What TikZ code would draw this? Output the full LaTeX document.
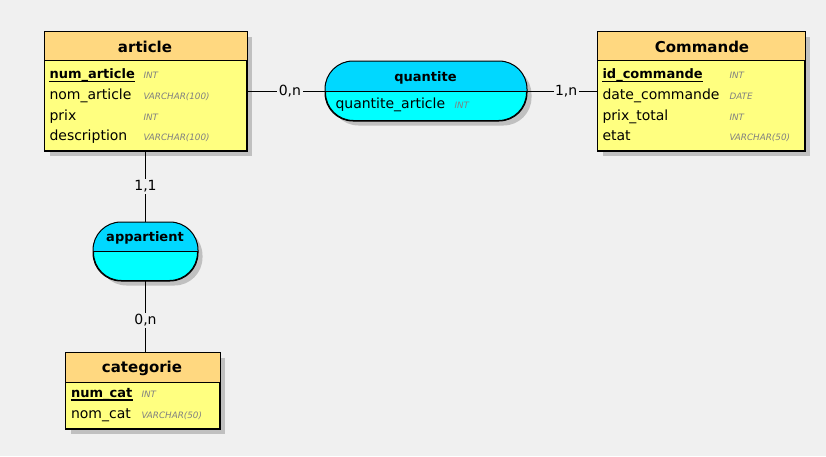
\documentclass[tikz,border=0pt]{standalone}
\usepackage{fontspec}
\setmainfont{DejaVu Sans}
\usetikzlibrary{shadows}
\definecolor{bg}{RGB}{240,240,240}
\definecolor{headc}{RGB}{255,216,128}
\definecolor{bodyc}{RGB}{255,255,128}
\definecolor{ehead}{RGB}{0,216,255}
\definecolor{ebody}{RGB}{0,255,255}
\definecolor{shadowc}{RGB}{192,192,192}
\definecolor{typec}{RGB}{128,128,128}
\begin{document}
\begin{tikzpicture}[x=1pt,y=-1pt,line width=1pt,
  shad/.style={drop shadow={shadow xshift=5pt,shadow yshift=-5pt,fill=shadowc,opacity=1}},
  tbl/.style={draw=black,fill=bodyc,inner sep=0pt,anchor=north west,shad},
  ent/.style={draw=black,fill=ebody,inner sep=0pt,anchor=north west,rounded corners=28pt,shad},
  attr/.style={anchor=base west,inner sep=0pt,font=\fontsize{14}{16}\selectfont},
  keyattr/.style={anchor=base west,inner sep=0pt,font=\fontsize{13}{16}\selectfont\bfseries},
  typ/.style={anchor=base west,inner sep=0pt,text=typec,font=\fontsize{8.8}{10}\selectfont\itshape},
  ttl/.style={anchor=base,inner sep=0pt,font=\fontsize{15}{18}\selectfont\bfseries},
  ettl/.style={anchor=base,inner sep=0pt,font=\fontsize{13}{16}\selectfont\bfseries},
  lbl/.style={fill=bg,inner sep=1.5pt,font=\fontsize{14}{16}\selectfont},
  uline/.style={line width=1.6pt}
]
\fill[bg] (0,0) rectangle (826,456);
\useasboundingbox (0,0) rectangle (826,456);

% ---------- article ----------
\node[tbl,minimum width=202pt,minimum height=119pt] (article) at (44,31) {};
\fill[headc] (article.north west) rectangle ([yshift=-29pt]article.north east);
\draw (article.north west) rectangle (article.south east);
\draw ([yshift=-29pt]article.north west) -- ([yshift=-29pt]article.north east);
\node[ttl] (articleT) at (145,52.5) {article};
\node[keyattr] (a1) at (49,78.5) {num\_article};
\draw[uline] ([yshift=-3pt]a1.base west) -- ([yshift=-3pt]a1.base east);
\node[attr] (a2) at (49,99.3) {nom\_article};
\node[attr] (a3) at (49,120.1) {prix};
\node[attr] (a4) at (49,140.9) {description};
\node[typ] (a1t) at (143,78.5) {INT};
\node[typ] (a2t) at (143,99.3) {VARCHAR(100)};
\node[typ] (a3t) at (143,120.1) {INT};
\node[typ] (a4t) at (143,140.9) {VARCHAR(100)};

% ---------- Commande ----------
\node[tbl,minimum width=207pt,minimum height=119pt] (commande) at (597,31) {};
\fill[headc] (commande.north west) rectangle ([yshift=-29pt]commande.north east);
\draw (commande.north west) rectangle (commande.south east);
\draw ([yshift=-29pt]commande.north west) -- ([yshift=-29pt]commande.north east);
\node[ttl] (commandeT) at (702,52.5) {Commande};
\node[keyattr] (c1) at (602,78.5) {id\_commande};
\draw[uline] ([yshift=-3pt]c1.base west) -- ([yshift=-3pt]c1.base east);
\node[attr] (c2) at (602,99.3) {date\_commande};
\node[attr] (c3) at (602,120.1) {prix\_total};
\node[attr] (c4) at (602,140.9) {etat};
\node[typ] (c1t) at (729,78.5) {INT};
\node[typ] (c2t) at (729,99.3) {DATE};
\node[typ] (c3t) at (729,120.1) {INT};
\node[typ] (c4t) at (729,140.9) {VARCHAR(50)};

% ---------- categorie ----------
\node[tbl,minimum width=154pt,minimum height=76pt] (categorie) at (65,352) {};
\fill[headc] (categorie.north west) rectangle ([yshift=-30pt]categorie.north east);
\draw (categorie.north west) rectangle (categorie.south east);
\draw ([yshift=-30pt]categorie.north west) -- ([yshift=-30pt]categorie.north east);
\node[ttl] (categorieT) at (142,372) {categorie};
\node[keyattr] (k1) at (70.5,397) {num\_cat};
\draw[uline] ([yshift=-3pt]k1.base west) -- ([yshift=-3pt]k1.base east);
\node[attr] (k2) at (70.5,418.3) {nom\_cat};
\node[typ] (k1t) at (141,397) {INT};
\node[typ] (k2t) at (141,418.3) {VARCHAR(50)};

% ---------- quantite ----------
\node[ent,minimum width=201pt,minimum height=59pt] (quantite) at (325,61) {};
\begin{scope}
  \clip[rounded corners=28pt] (quantite.north west) rectangle (quantite.south east);
  \fill[ehead] (quantite.north west) rectangle ([yshift=-30pt]quantite.north east);
\end{scope}
\draw[rounded corners=28pt] (quantite.north west) rectangle (quantite.south east);
\draw ([yshift=-30pt]quantite.north west) -- ([yshift=-30pt]quantite.north east);
\node[ettl] (quantiteT) at (425.5,81.7) {quantite};
\node[attr] (q1) at (335,108.3) {quantite\_article};
\node[typ] (q1t) at (454,108.3) {INT};

% ---------- appartient ----------
\node[ent,minimum width=104pt,minimum height=58pt] (appartient) at (93,222) {};
\begin{scope}
  \clip[rounded corners=28pt] (appartient.north west) rectangle (appartient.south east);
  \fill[ehead] (appartient.north west) rectangle ([yshift=-29pt]appartient.north east);
\end{scope}
\draw[rounded corners=28pt] (appartient.north west) rectangle (appartient.south east);
\draw ([yshift=-29pt]appartient.north west) -- ([yshift=-29pt]appartient.north east);
\node[ettl] (appartientT) at (145,241.7) {appartient};

% ---------- connectors ----------
\draw (article.east) -- node[lbl,pos=0.55] (l1) {0,n} (quantite.west);
\draw (quantite.east) -- node[lbl,pos=0.56] (l2) {1,n} (commande.west);
\draw (article.south) -- node[lbl,midway] (l3) {1,1} (appartient.north);
\draw (appartient.south) -- node[lbl,pos=0.55] (l4) {0,n} (appartient.south |- categorie.north);
\end{tikzpicture}
\end{document}
